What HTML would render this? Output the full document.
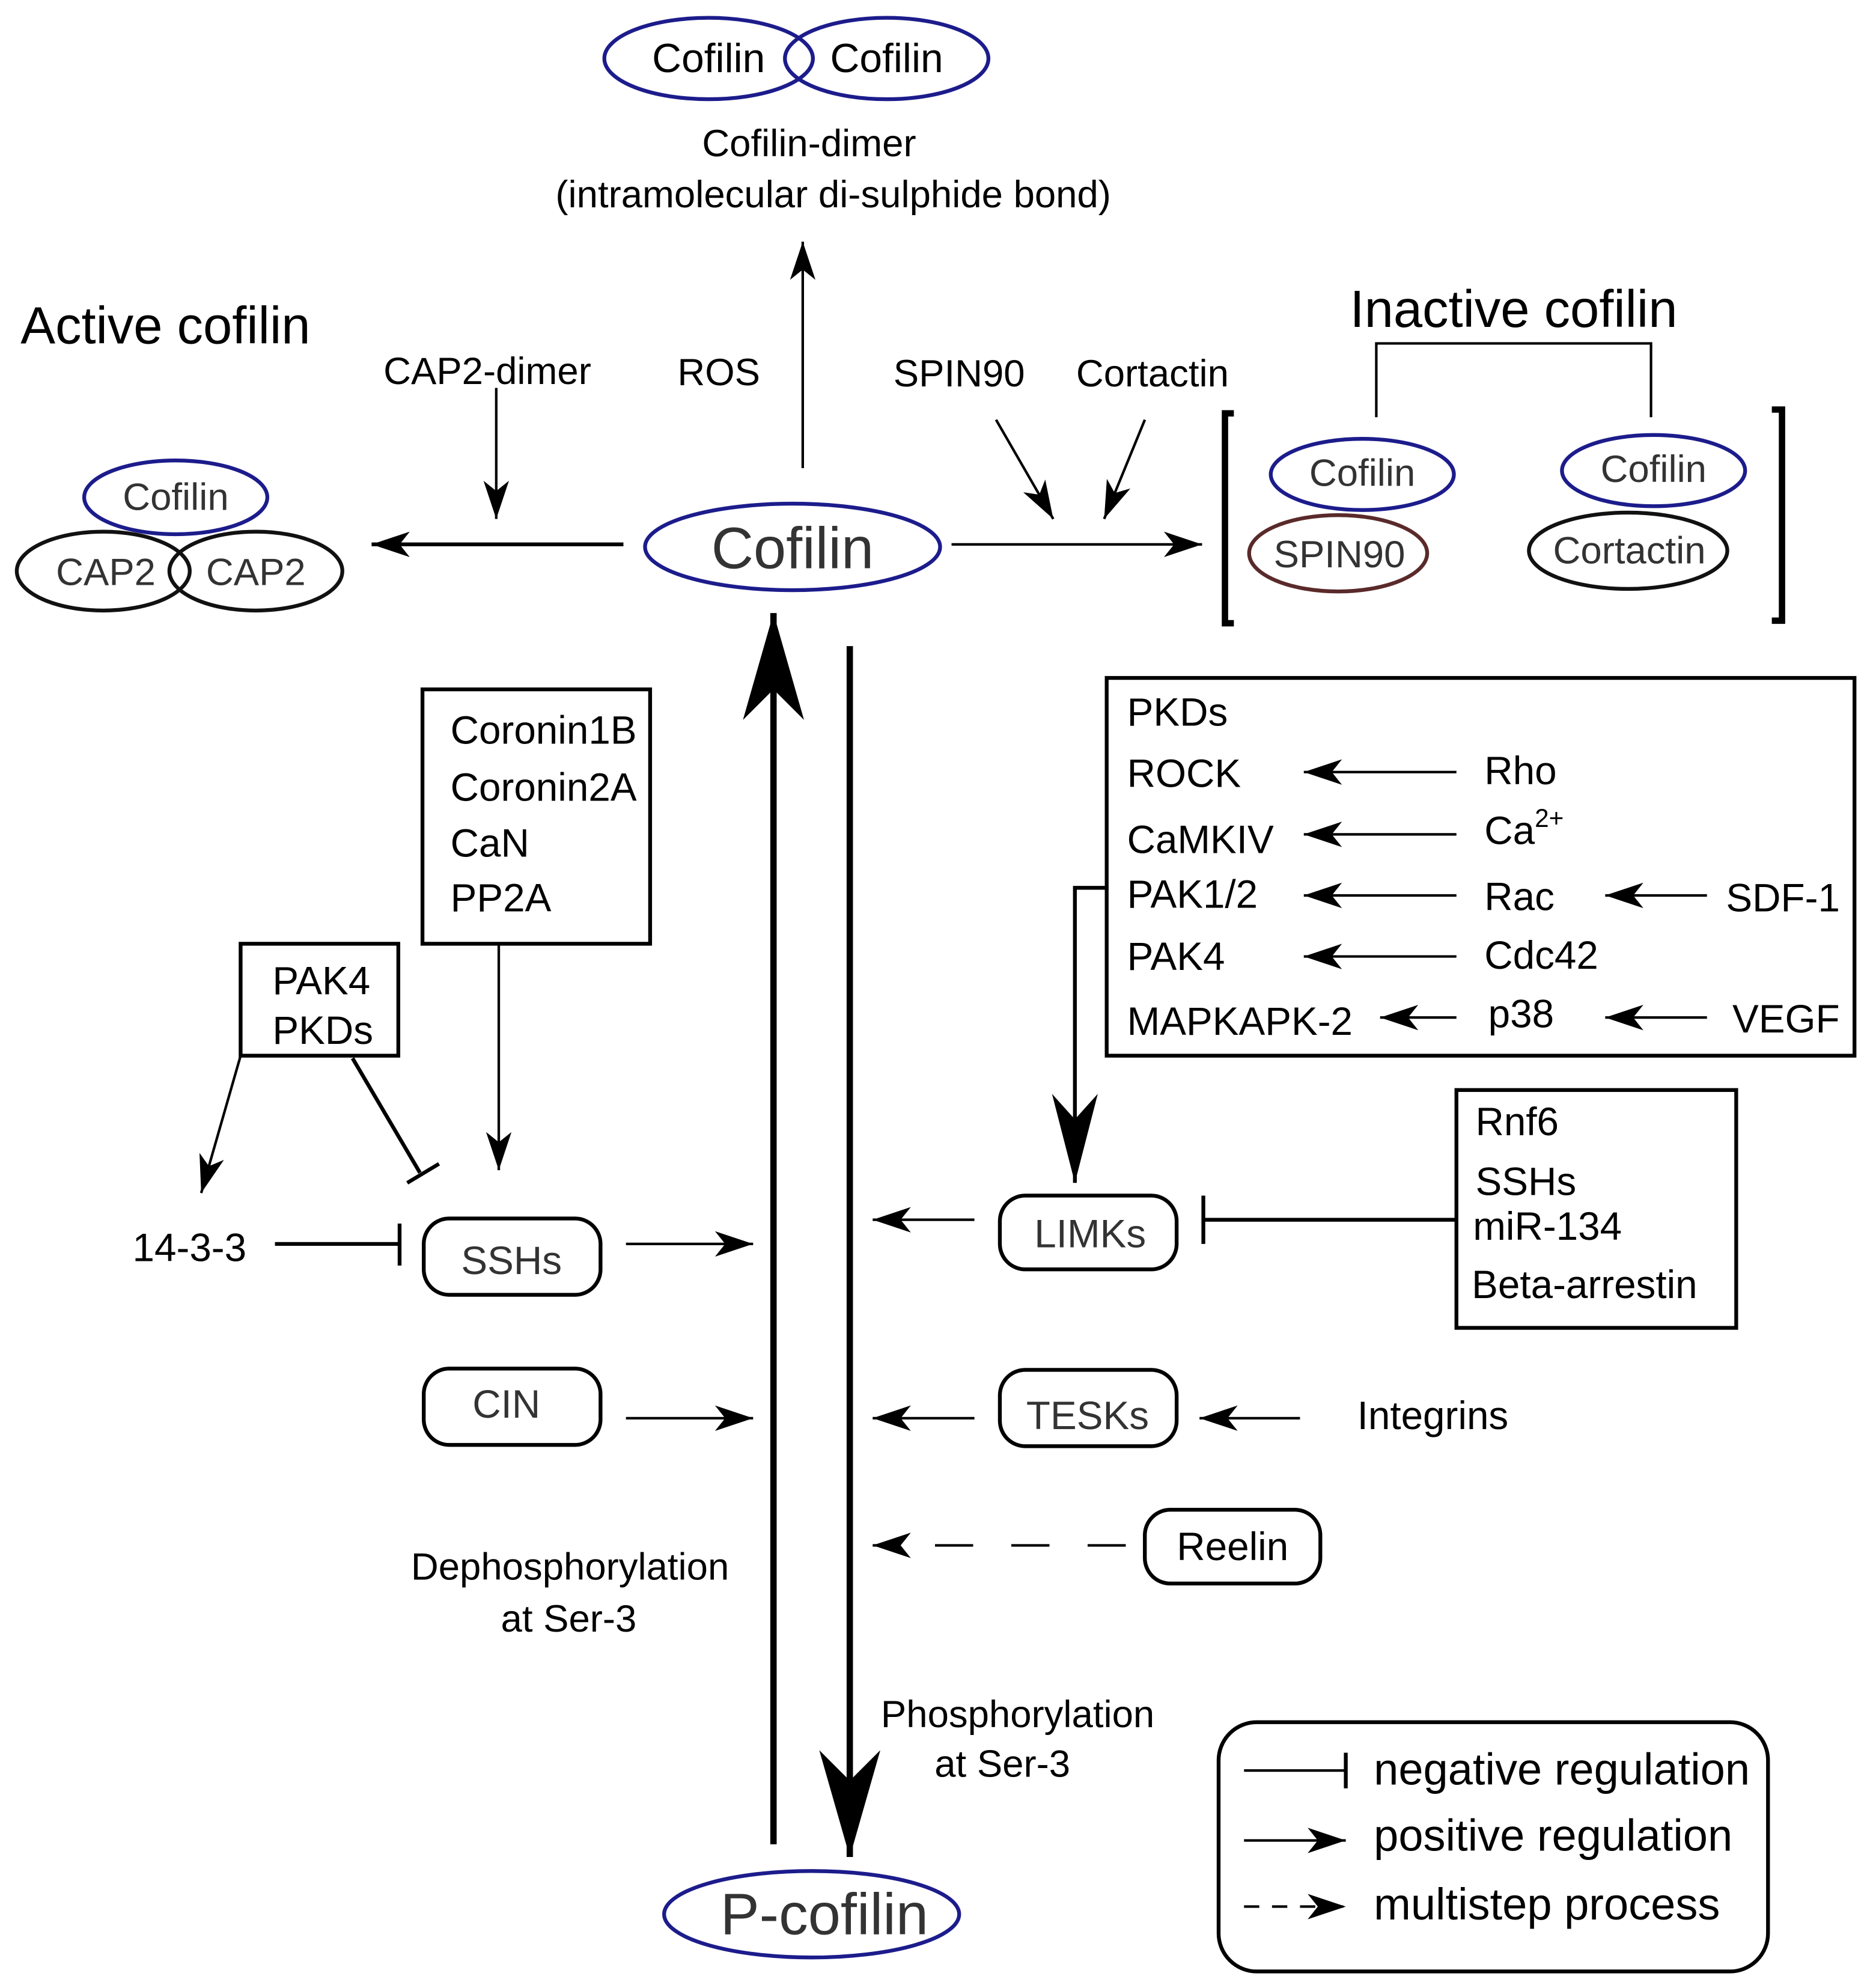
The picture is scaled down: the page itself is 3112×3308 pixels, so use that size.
<!DOCTYPE html>
<html><head><meta charset="utf-8"><style>html,body{margin:0;padding:0;background:#fff}svg{display:block}</style></head>
<body>
<svg xmlns="http://www.w3.org/2000/svg" width="3112" height="3308" viewBox="0 0 1470 1563" font-family="Liberation Sans, Arial, sans-serif">
<defs>
<marker id="a" viewBox="0 0 30 20" refX="30" refY="10" markerWidth="30" markerHeight="20" markerUnits="userSpaceOnUse" orient="auto"><path d="M30,10 L0,0 L8,10 L0,20 z" fill="#000"/></marker>
<marker id="c" viewBox="0 0 70 36" refX="70" refY="18" markerWidth="70" markerHeight="36" markerUnits="userSpaceOnUse" orient="auto"><path d="M70,18 L0,0 L20,18 L0,36 z" fill="#000"/></marker>
<marker id="b" viewBox="0 0 84 48" refX="84" refY="24" markerWidth="84" markerHeight="48" markerUnits="userSpaceOnUse" orient="auto"><path d="M84,24 L0,0 L24,24 L0,48 z" fill="#000"/></marker>
</defs>
<rect width="1470" height="1563" fill="#fff"/>
<g fill="none" stroke-width="3">
<ellipse cx="557" cy="46" rx="82" ry="32" stroke="#1c1c8c"/>
<ellipse cx="697" cy="46" rx="80" ry="32" stroke="#1c1c8c"/>
<ellipse cx="623" cy="430" rx="116" ry="34" stroke="#1c1c8c"/>
<ellipse cx="638" cy="1505" rx="116" ry="34" stroke="#1c1c8c"/>
<ellipse cx="81" cy="449" rx="68" ry="31" stroke="#111"/>
<ellipse cx="201" cy="449" rx="68" ry="31" stroke="#111"/>
<ellipse cx="138" cy="391" rx="72" ry="29" stroke="#1c1c8c"/>
<ellipse cx="1052" cy="435" rx="70" ry="30" stroke="#5a2a2a"/>
<ellipse cx="1071" cy="373" rx="72" ry="28" stroke="#1c1c8c"/>
<ellipse cx="1280" cy="433" rx="78" ry="30" stroke="#111"/>
<ellipse cx="1300" cy="370" rx="72" ry="28" stroke="#1c1c8c"/>
</g>
<g fill="#000" font-size="32" text-anchor="middle" dominant-baseline="central">
<text x="557" y="46">Cofilin</text><text x="697" y="46">Cofilin</text>
</g>
<g fill="#333" text-anchor="middle" dominant-baseline="central">
<text x="623" y="431" font-size="46">Cofilin</text>
<text x="648" y="1505" font-size="46">P-cofilin</text>
<text x="138" y="391" font-size="30">Cofilin</text>
<text x="83" y="450" font-size="30">CAP2</text>
<text x="201" y="450" font-size="30">CAP2</text>
<text x="1071" y="372" font-size="30">Cofilin</text>
<text x="1300" y="369" font-size="30">Cofilin</text>
<text x="1053" y="436" font-size="30">SPIN90</text>
<text x="1281" y="433" font-size="30">Cortactin</text>
</g>
<g fill="#000" font-size="30" dominant-baseline="central">
<text x="636" y="113" text-anchor="middle">Cofilin-dimer</text>
<text x="655" y="153" text-anchor="middle">(intramolecular di-sulphide bond)</text>
<text x="16" y="256" font-size="41">Active cofilin</text>
<text x="1190" y="243" font-size="41" text-anchor="middle">Inactive cofilin</text>
<text x="383" y="292" text-anchor="middle">CAP2-dimer</text>
<text x="565" y="293" text-anchor="middle">ROS</text>
<text x="754" y="294" text-anchor="middle">SPIN90</text>
<text x="906" y="294" text-anchor="middle">Cortactin</text>
<text x="354" y="574" font-size="31">Coronin1B</text>
<text x="354" y="619" font-size="31">Coronin2A</text>
<text x="354" y="663" font-size="31">CaN</text>
<text x="354" y="706" font-size="31">PP2A</text>
<text x="214" y="771" font-size="31">PAK4</text>
<text x="214" y="810" font-size="31">PKDs</text>
<text x="104" y="981" font-size="31">14-3-3</text>
<text x="448" y="1232" text-anchor="middle">Dephosphorylation</text>
<text x="447" y="1273" text-anchor="middle">at Ser-3</text>
<text x="800" y="1348" text-anchor="middle">Phosphorylation</text>
<text x="788" y="1387" text-anchor="middle">at Ser-3</text>
<text x="886" y="560" font-size="31">PKDs</text>
<text x="886" y="608" font-size="31">ROCK</text>
<text x="886" y="660" font-size="31">CaMKIV</text>
<text x="886" y="703" font-size="31">PAK1/2</text>
<text x="886" y="752" font-size="31">PAK4</text>
<text x="886" y="803" font-size="31">MAPKAPK-2</text>
<text x="1167" y="606" font-size="31">Rho</text>
<text x="1167" y="653" font-size="31">Ca<tspan font-size="20" dy="-10">2+</tspan></text>
<text x="1167" y="705" font-size="31">Rac</text>
<text x="1167" y="751" font-size="31">Cdc42</text>
<text x="1170" y="797" font-size="31">p38</text>
<text x="1357" y="706" font-size="31">SDF-1</text>
<text x="1362" y="801" font-size="31">VEGF</text>
<text x="1160" y="882" font-size="31">Rnf6</text>
<text x="1160" y="929" font-size="31">SSHs</text>
<text x="1158" y="964" font-size="31">miR-134</text>
<text x="1157" y="1010" font-size="31">Beta-arrestin</text>
<text x="1067" y="1113" font-size="31">Integrins</text>
<text x="1080" y="1391" font-size="35">negative regulation</text>
<text x="1080" y="1443" font-size="35">positive regulation</text>
<text x="1080" y="1497" font-size="35">multistep process</text>
</g>
<g fill="#333" font-size="31" text-anchor="middle" dominant-baseline="central">
<text x="402" y="991">SSHs</text>
<text x="398" y="1104">CIN</text>
<text x="857" y="970">LIMKs</text>
<text x="855" y="1113">TESKs</text>
<text x="969" y="1216" fill="#000">Reelin</text>
</g>
<g fill="none" stroke="#000" stroke-width="3">
<rect x="333" y="958" width="139" height="60" rx="20"/>
<rect x="333" y="1076" width="139" height="60" rx="20"/>
<rect x="786" y="940" width="139" height="58" rx="20"/>
<rect x="786" y="1077" width="139" height="60" rx="20"/>
<rect x="900" y="1187" width="138" height="58" rx="20"/>
<rect x="332" y="542" width="179" height="200"/>
<rect x="189" y="742" width="124" height="88"/>
<rect x="870" y="533" width="588" height="297"/>
<rect x="1145" y="857" width="220" height="187"/>
<rect x="958" y="1354" width="432" height="196" rx="30"/>
</g>
<g fill="none" stroke="#000" stroke-width="2">
<line x1="631" y1="368" x2="631" y2="190" marker-end="url(#a)"/>
<line x1="390" y1="305" x2="390" y2="408" marker-end="url(#a)"/>
<line x1="490" y1="428" x2="292" y2="428" stroke-width="3" marker-end="url(#a)"/>
<line x1="748" y1="428" x2="945" y2="428" marker-end="url(#a)"/>
<line x1="783" y1="330" x2="828" y2="408" marker-end="url(#a)"/>
<line x1="900" y1="330" x2="868" y2="408" marker-end="url(#a)"/>
<polyline points="1082,328 1082,270 1298,270 1298,328"/>
<polyline points="970,325 963,325 963,490 970,490" stroke-width="5"/>
<polyline points="1393,322 1401,322 1401,488 1393,488" stroke-width="5"/>
<line x1="392" y1="742" x2="392" y2="920" marker-end="url(#a)"/>
<line x1="189" y1="830" x2="158" y2="938" marker-end="url(#a)"/>
<line x1="277" y1="832" x2="330" y2="922" stroke-width="3"/>
<line x1="320" y1="930" x2="345" y2="915" stroke-width="3"/>
<line x1="216" y1="978" x2="314" y2="978" stroke-width="3"/>
<line x1="314" y1="962" x2="314" y2="995" stroke-width="3"/>
<line x1="492" y1="978" x2="592" y2="978" marker-end="url(#a)"/>
<line x1="492" y1="1115" x2="592" y2="1115" marker-end="url(#a)"/>
<line x1="1145" y1="607" x2="1025" y2="607" marker-end="url(#a)"/>
<line x1="1145" y1="656" x2="1025" y2="656" marker-end="url(#a)"/>
<line x1="1145" y1="704" x2="1025" y2="704" marker-end="url(#a)"/>
<line x1="1145" y1="752" x2="1025" y2="752" marker-end="url(#a)"/>
<line x1="1145" y1="800" x2="1085" y2="800" marker-end="url(#a)"/>
<line x1="1342" y1="704" x2="1262" y2="704" marker-end="url(#a)"/>
<line x1="1342" y1="800" x2="1262" y2="800" marker-end="url(#a)"/>
<polyline points="870,698 845,698 845,930" stroke-width="3" marker-end="url(#c)"/>
<line x1="766" y1="959" x2="686" y2="959" marker-end="url(#a)"/>
<line x1="1145" y1="959" x2="946" y2="959" stroke-width="3"/>
<line x1="946" y1="940" x2="946" y2="978" stroke-width="3"/>
<line x1="766" y1="1115" x2="686" y2="1115" marker-end="url(#a)"/>
<line x1="1022" y1="1115" x2="943" y2="1115" marker-end="url(#a)"/>
<line x1="885" y1="1215" x2="686" y2="1215" stroke-dasharray="30 30" marker-end="url(#a)"/>
<line x1="608" y1="1450" x2="608" y2="482" stroke-width="5" marker-end="url(#b)"/>
<line x1="668" y1="508" x2="668" y2="1460" stroke-width="5" marker-end="url(#b)"/>
<line x1="978" y1="1392" x2="1058" y2="1392"/>
<line x1="1058" y1="1378" x2="1058" y2="1406" stroke-width="3"/>
<line x1="978" y1="1447" x2="1058" y2="1447" marker-end="url(#a)"/>
<line x1="978" y1="1499" x2="1058" y2="1499" stroke-dasharray="12 10" marker-end="url(#a)"/>
</g>
</svg>
</body></html>
